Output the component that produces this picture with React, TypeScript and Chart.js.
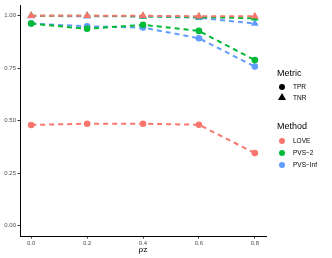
import React, { useEffect, useRef } from "react";
import { Chart, registerables } from "chart.js";

Chart.register(...registerables);

const rhoZ = [0.0, 0.2, 0.4, 0.6, 0.8];
const xTicks = [0.0, 0.2, 0.4, 0.6, 0.8];
const yTicks = [0.0, 0.25, 0.5, 0.75, 1.0];

const loveTPR = [0.479, 0.485, 0.485, 0.48, 0.345];
const loveTNR = [0.999, 0.999, 0.999, 0.997, 0.997];
const pvs2TPR = [0.962, 0.937, 0.956, 0.927, 0.788];
const pvs2TNR = [0.999, 0.999, 0.997, 0.993, 0.987];
const pvsInfTPR = [0.962, 0.949, 0.943, 0.892, 0.757];
const pvsInfTNR = [0.998, 0.997, 0.996, 0.99, 0.962];

const methods = ["LOVE", "PVS\u22122", "PVS\u2212Inf"];
const colors = ["#F8766D", "#00BA38", "#619CFF"];

const FONT = "'Liberation Sans', Arial, sans-serif";

export default function App() {
  const ref = useRef<HTMLCanvasElement>(null);

  useEffect(() => {
    document.body.style.margin = "0";
    const ctx = ref.current!.getContext("2d")!;
    const series = [
      [loveTPR, loveTNR],
      [pvs2TPR, pvs2TNR],
      [pvsInfTPR, pvsInfTNR],
    ];
    const datasets: any[] = [];
    series.forEach((s, i) => {
      datasets.push({
        label: methods[i] + " TNR",
        data: rhoZ.map((x, j) => ({ x, y: s[1][j] })),
        borderColor: colors[i],
        backgroundColor: colors[i],
        borderWidth: 2,
        borderDash: [5, 4],
        pointStyle: "triangle",
        pointRadius: 4.5,
        pointBorderWidth: 0,
        showLine: true,
        tension: 0,
      });
    });
    series.forEach((s, i) => {
      datasets.push({
        label: methods[i] + " TPR",
        data: rhoZ.map((x, j) => ({ x, y: s[0][j] })),
        borderColor: colors[i],
        backgroundColor: colors[i],
        borderWidth: 2,
        borderDash: [5, 4],
        pointStyle: "circle",
        pointRadius: 3.3,
        pointBorderWidth: 0,
        showLine: true,
        tension: 0,
      });
    });

    const chart = new Chart(ctx, {
      type: "scatter",
      data: { datasets },
      options: {
        animation: false,
        responsive: false,
        layout: { padding: { top: 3, right: 66, left: 0, bottom: 3 } },
        plugins: { legend: { display: false }, tooltip: { enabled: false } },
        scales: {
          x: {
            type: "linear",
            min: -0.04,
            max: 0.84,
            afterBuildTicks: (axis: any) => {
              axis.ticks = xTicks.map((v) => ({ value: v }));
            },
            afterFit: (axis: any) => {
              axis.height = 19;
            },
            ticks: {
              color: "#4D4D4D",
              font: { size: 6, family: FONT },
              padding: 1,
              callback: (v: any) => Number(v).toFixed(1),
            },
            grid: {
              display: true,
              drawOnChartArea: false,
              drawTicks: true,
              tickLength: 2.5,
              color: "#333333",
              lineWidth: 1,
            },
            border: { display: true, color: "#000000", width: 1 },
            title: {
              display: true,
              text: "\u03C1z",
              color: "#000000",
              font: { size: 8, family: "'DejaVu Serif', serif" },
              padding: { top: 0, bottom: 0 },
            },
          },
          y: {
            type: "linear",
            min: -0.05,
            max: 1.05,
            afterBuildTicks: (axis: any) => {
              axis.ticks = yTicks.map((v) => ({ value: v }));
            },
            afterFit: (axis: any) => {
              axis.width = 20;
            },
            ticks: {
              color: "#4D4D4D",
              font: { size: 6, family: FONT },
              padding: 1.5,
              callback: (v: any) => Number(v).toFixed(2),
            },
            grid: {
              display: true,
              drawOnChartArea: false,
              drawTicks: true,
              tickLength: 2.5,
              color: "#333333",
              lineWidth: 1,
            },
            border: { display: true, color: "#000000", width: 1 },
          },
        },
      },
    });
    return () => chart.destroy();
  }, []);

  const legendTitle: React.CSSProperties = {
    position: "absolute",
    left: 277,
    fontFamily: FONT,
    fontSize: 9,
    color: "#000",
    lineHeight: "10px",
  };
  const entryText: React.CSSProperties = {
    position: "absolute",
    left: 293,
    fontFamily: FONT,
    fontSize: 6.5,
    color: "#000",
    lineHeight: "8px",
  };
  const dot = (color: string, top: number): React.CSSProperties => ({
    position: "absolute",
    left: 279,
    top,
    width: 6,
    height: 6,
    borderRadius: 3,
    background: color,
  });

  return (
    <div style={{ position: "fixed", left: 0, top: 0, width: 332, height: 258, background: "#fff" }}>
      <canvas ref={ref} width={332} height={258} style={{ display: "block" }} />
      <div style={{ ...legendTitle, top: 68 }}>Metric</div>
      <div style={dot("#000", 84)} />
      <div style={{ ...entryText, top: 83 }}>TPR</div>
      <div
        style={{
          position: "absolute",
          left: 278,
          top: 93,
          width: 0,
          height: 0,
          borderLeft: "4px solid transparent",
          borderRight: "4px solid transparent",
          borderBottom: "7px solid #000",
        }}
      />
      <div style={{ ...entryText, top: 94 }}>TNR</div>
      <div style={{ ...legendTitle, top: 121 }}>Method</div>
      {methods.map((m, i) => (
        <React.Fragment key={m}>
          <div style={dot(colors[i], 138 + i * 12)} />
          <div style={{ ...entryText, top: 137 + i * 12 }}>{m}</div>
        </React.Fragment>
      ))}
    </div>
  );
}
